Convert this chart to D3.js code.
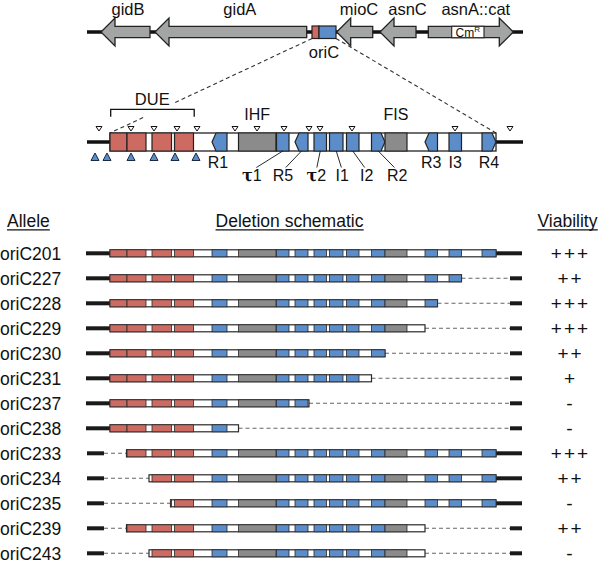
<!DOCTYPE html>
<html><head><meta charset="utf-8">
<script src="https://cdn.jsdelivr.net/npm/d3@7"></script>
<style>body{margin:0;background:#fff} svg{display:block}</style>
</head><body>
<svg id="c" width="601" height="561"></svg>
<script>
// ---------- DATA ----------
// Chromosomal region around oriC (schematic units along the fragment)
const geneNames  = ["gidB", "gidA", "mioC", "asnC", "asnA::cat"];
const geneStart  = [14, 68, 249.7, 293, 341.3];
const geneEnd    = [63, 219.7, 285.7, 329, 426.3];
const geneStrand = [-1, -1, -1, -1, 1];
const fragmentLength = 436;
const cmRStart = 364.7, cmREnd = 397;          // cat cassette inside asnA
const oriCDueStart = 225, oriCDueEnd = 232, oriCEnd = 249; // oriC on the gene map

// oriC elements (schematic units along oriC)
const elemType  = ["DUE","DUE","DUE","DUE","R","IHF","tau","R","tau","I","I","R","FIS","R","I","R"];
const elemName  = ["","","","","R1","IHF","τ1","R5","τ2","I1","I2","R2","FIS","R3","I3","R4"];
const elemStart = [0, 17, 42, 64.5, 102, 128.5, 166.5, 185, 204, 219.5, 236.5, 261.5, 275, 315, 339, 372];
const elemEnd   = [17, 36, 61.5, 83.5, 117, 166, 179, 198, 216.5, 233, 249, 275, 297, 327.5, 351.5, 386];
const elemDir   = [0, 0, 0, 0, -1, 0, 0, -1, 0, 0, 0, 1, 0, -1, 0, 1];
const oriCLength = 386;
const dueSpan = [0, 83.5];

// deletion end-points (open triangles above) and start-points (filled triangles below)
const deletionMarksAbove = [-11, 21, 44, 67, 87, 125, 147, 174, 199, 210, 242, 345, 400];
const deletionMarksBelow = [-15, -3, 21, 44, 65, 86];

// Alleles: retained region of oriC, and viability
const alleles   = ["oriC201","oriC227","oriC228","oriC229","oriC230","oriC231","oriC237","oriC238","oriC233","oriC234","oriC235","oriC239","oriC243"];
const keepFrom  = [0, 0, 0, 0, 0, 0, 0, 0, 16.5, 39, 60.5, 16.5, 39];
const keepTo    = [386, 351.5, 327.5, 315, 275, 261.5, 199, 128.5, 386, 386, 386, 315, 315];
const viability = ["+++","++","+++","+++","++","+","-","-","+++","++","-","++","-"];

// ---------- DRAW ----------
const svg = d3.select("#c");
const SANS = "'Liberation Sans', Arial, Helvetica, sans-serif";
const RED = "#cd6b62", BLUE = "#5b8dcb", GENE = "#a3a5a4", PROT = "#8b8b8b", INK = "#222";
const colorOf = t => t === "DUE" ? RED : (t === "IHF" || t === "FIS") ? PROT : BLUE;

const g = d3.scaleLinear().domain([0, fragmentLength]).range([87, 523]);
const x = d3.scaleLinear().domain([0, oriCLength]).range([110, 496]);
const pts = a => a.map(p => p.join(",")).join(" ");

// --- gene map ---
const GY = 32, BH = 5.7, HH = 14, HL = 14;
svg.append("line").attr("x1", g(0)).attr("x2", g(fragmentLength)).attr("y1", GY).attr("y2", GY)
  .attr("stroke", "#111").attr("stroke-width", 3.5);
const geneLabelShift = [-4.5, 2, -2.7, 2.5, 12];
geneNames.forEach((n, i) => {
  const s = g(geneStart[i]), e = g(geneEnd[i]);
  let p, bodyMid;
  if (geneStrand[i] < 0) {
    p = [[s,GY],[s+HL,GY-HH],[s+HL,GY-BH],[e,GY-BH],[e,GY+BH],[s+HL,GY+BH],[s+HL,GY+HH]];
    bodyMid = (s + HL + e) / 2;
  } else {
    p = [[e,GY],[e-HL,GY-HH],[e-HL,GY-BH],[s,GY-BH],[s,GY+BH],[e-HL,GY+BH],[e-HL,GY+HH]];
    bodyMid = (s + e - HL) / 2;
  }
  svg.append("polygon").attr("points", pts(p)).attr("fill", GENE).attr("stroke", INK).attr("stroke-width", 1.3);
  svg.append("text").attr("x", bodyMid + geneLabelShift[i]).attr("y", 15).attr("text-anchor", "middle")
    .attr("font-family", SANS).attr("font-size", 16.5).attr("fill", "#111").text(n);
});
// CmR box
svg.append("rect").attr("x", g(cmRStart)).attr("y", GY - BH).attr("width", g(cmREnd) - g(cmRStart)).attr("height", 2*BH)
  .attr("fill", "#fff").attr("stroke", INK).attr("stroke-width", 1.1);
const cm = svg.append("text").attr("x", (g(cmRStart)+g(cmREnd))/2).attr("y", 36.5).attr("text-anchor", "middle")
  .attr("font-family", SANS).attr("font-size", 12).attr("fill", "#111");
cm.append("tspan").text("Cm");
cm.append("tspan").attr("font-size", 8).attr("dy", -5).text("R");
// oriC on map
svg.append("rect").attr("x", g(oriCDueStart)).attr("y", 26).attr("width", g(oriCDueEnd)-g(oriCDueStart)).attr("height", 12.5)
  .attr("fill", RED).attr("stroke", INK).attr("stroke-width", 1.2);
svg.append("rect").attr("x", g(oriCDueEnd)).attr("y", 26).attr("width", g(oriCEnd)-g(oriCDueEnd)).attr("height", 12.5)
  .attr("fill", BLUE).attr("stroke", INK).attr("stroke-width", 1.2);
svg.append("text").attr("x", 324).attr("y", 57.5).attr("text-anchor", "middle")
  .attr("font-family", SANS).attr("font-size", 16.5).attr("fill", "#111").text("oriC");

// --- zoom dashed lines ---
const MT = 133, MB = 151, MM = 142;
const L0 = [g(oriCDueStart), 38.5], L1 = [x(0), MT];
const atY = (a, b, y) => a[0] + (b[0]-a[0]) * (y - a[1]) / (b[1]-a[1]);
const dash = sel => sel.attr("stroke", "#333").attr("stroke-width", 1.1).attr("stroke-dasharray", "4,3").attr("fill", "none");
dash(svg.append("line").attr("x1", L0[0]).attr("y1", L0[1]).attr("x2", atY(L0, L1, 102.5)).attr("y2", 102.5));
dash(svg.append("line").attr("x1", atY(L0, L1, 117.5)).attr("y1", 117.5).attr("x2", L1[0]).attr("y2", L1[1]));
dash(svg.append("line").attr("x1", g(oriCEnd)).attr("y1", 38.5).attr("x2", x(oriCLength)).attr("y2", MT));

// --- expanded oriC ---
svg.append("line").attr("x1", x(-23)).attr("x2", x(0)).attr("y1", MM).attr("y2", MM).attr("stroke", "#111").attr("stroke-width", 3.5);
svg.append("line").attr("x1", x(oriCLength)).attr("x2", x(oriCLength + 27)).attr("y1", MM).attr("y2", MM).attr("stroke", "#111").attr("stroke-width", 3.5);
svg.append("rect").attr("x", x(0)).attr("y", MT).attr("width", x(oriCLength) - x(0)).attr("height", MB - MT)
  .attr("fill", "#fff").attr("stroke", INK).attr("stroke-width", 1.3);
const N = 4;
elemType.forEach((t, i) => {
  const s = x(elemStart[i]), e = x(elemEnd[i]);
  let p;
  if (elemDir[i] < 0) p = [[s+N,MT],[e,MT],[e,MB],[s+N,MB],[s,MM]];
  else if (elemDir[i] > 0) p = [[s,MT],[e-N,MT],[e,MM],[e-N,MB],[s,MB]];
  else p = [[s,MT],[e,MT],[e,MB],[s,MB]];
  svg.append("polygon").attr("points", pts(p)).attr("fill", colorOf(t)).attr("stroke", INK).attr("stroke-width", 1.2);
});
// triangles
deletionMarksAbove.forEach(v => {
  const c = x(v);
  svg.append("polygon").attr("points", pts([[c-3,126.5],[c+3,126.5],[c,131]]))
    .attr("fill", "#fff").attr("stroke", "#111").attr("stroke-width", 1);
});
deletionMarksBelow.forEach(v => {
  const c = x(v);
  svg.append("polygon").attr("points", pts([[c-4,160.5],[c+4,160.5],[c,153]]))
    .attr("fill", BLUE).attr("stroke", "#1a2a40").attr("stroke-width", 1);
});
// DUE bracket
svg.append("path").attr("d", `M${x(dueSpan[0])+0.7},116.7V109.3H${x(dueSpan[1])+0.7}V116.7`)
  .attr("fill", "none").attr("stroke", "#111").attr("stroke-width", 1.3);
const lab = (tx, ty, str, size) => svg.append("text").attr("x", tx).attr("y", ty).attr("text-anchor", "middle")
  .attr("font-family", SANS).attr("font-size", size || 16).attr("fill", "#111").text(str);
lab((x(dueSpan[0]) + x(dueSpan[1])) / 2 + 0.5, 105, "DUE", 16.5);
elemName.forEach((n, i) => {
  if (n === "IHF" || n === "FIS") lab((x(elemStart[i]) + x(elemEnd[i])) / 2, 120, n);
});
// box labels below
const labelShift = {"R1": -1.5, "τ1": -31, "R5": -18.5, "τ2": -4, "I1": 6, "I2": 14, "R2": 19, "R3": 0, "I3": 0, "R4": 0};
const leader = {"τ1": 1, "R5": 1, "τ2": 1, "I1": 1, "I2": 1, "R2": 1};
elemName.forEach((n, i) => {
  if (!(n in labelShift)) return;
  const ec = (x(elemStart[i]) + x(elemEnd[i])) / 2;
  const lx = ec + labelShift[n];
  const by = leader[n] ? 180.5 : 168;
  if (leader[n]) {
    svg.append("line").attr("x1", ec).attr("y1", MB).attr("x2", lx - labelShift[n] * 0.15).attr("y2", 167.5)
      .attr("stroke", "#111").attr("stroke-width", 0.9);
  }
  if (n[0] === "τ") {
    const t = svg.append("text").attr("x", lx).attr("y", by).attr("text-anchor", "middle")
      .attr("font-family", SANS).attr("font-size", 16).attr("fill", "#111");
    t.append("tspan").attr("font-family", "'DejaVu Serif', serif").attr("font-weight", "bold").text("τ");
    t.append("tspan").text(n.slice(1));
  } else lab(lx, by, n);
});

// --- table ---
const headers = [["Allele", 7, "start"], ["Deletion schematic", 289.5, "middle"], ["Viability", 567.5, "middle"]];
headers.forEach(([h, hx, anc]) => {
  const t = svg.append("text").attr("x", hx).attr("y", 226.5).attr("text-anchor", anc)
    .attr("font-family", SANS).attr("font-size", 17.5).attr("fill", "#111").text(h);
  const bb = t.node().getBBox();
  svg.append("line").attr("x1", bb.x).attr("x2", bb.x + bb.width).attr("y1", 229.8).attr("y2", 229.8)
    .attr("stroke", "#111").attr("stroke-width", 1.2);
});
const yRow = d3.scalePoint().domain(alleles).range([253.3, 553.3]);
const RH = 7;
alleles.forEach((a, i) => {
  const y = yRow(a), f = keepFrom[i], t = keepTo[i];
  const blk = (x1, x2) => svg.append("rect").attr("x", x1).attr("y", y - 2).attr("width", x2 - x1).attr("height", 4).attr("fill", "#1a1a1a");
  const dl = (x1, x2) => dash(svg.append("line").attr("x1", x1).attr("x2", x2).attr("y1", y).attr("y2", y)).attr("stroke", "#666").attr("stroke-width", 1.1);
  if (f <= 0) blk(x(-24), x(0)); else { blk(x(-23), x(-6)); dl(x(-6), x(f)); }
  if (t >= oriCLength) blk(x(oriCLength), x(oriCLength + 26)); else { dl(x(t), x(400)); blk(x(400), x(oriCLength + 26)); }
  svg.append("rect").attr("x", x(f)).attr("y", y - RH/2).attr("width", x(t) - x(f)).attr("height", RH)
    .attr("fill", "#fff").attr("stroke", "#2a2a2a").attr("stroke-width", 1.2);
  elemType.forEach((ty, k) => {
    const s = Math.max(elemStart[k], f), e = Math.min(elemEnd[k], t);
    if (e <= s) return;
    svg.append("rect").attr("x", x(s)).attr("y", y - RH/2).attr("width", x(e) - x(s)).attr("height", RH)
      .attr("fill", colorOf(ty)).attr("stroke", "#2a2a2a").attr("stroke-width", 0.8);
  });
  svg.append("text").attr("x", 0).attr("y", y + 6.2).attr("font-family", SANS).attr("font-size", 17.5).attr("fill", "#111").text(a);
  svg.append("text").attr("x", 570.5).attr("y", y + 7).attr("text-anchor", "middle").attr("letter-spacing", 2)
    .attr("font-family", SANS).attr("font-size", 19).attr("fill", "#111").text(viability[i]);
});
</script>
</body></html>
